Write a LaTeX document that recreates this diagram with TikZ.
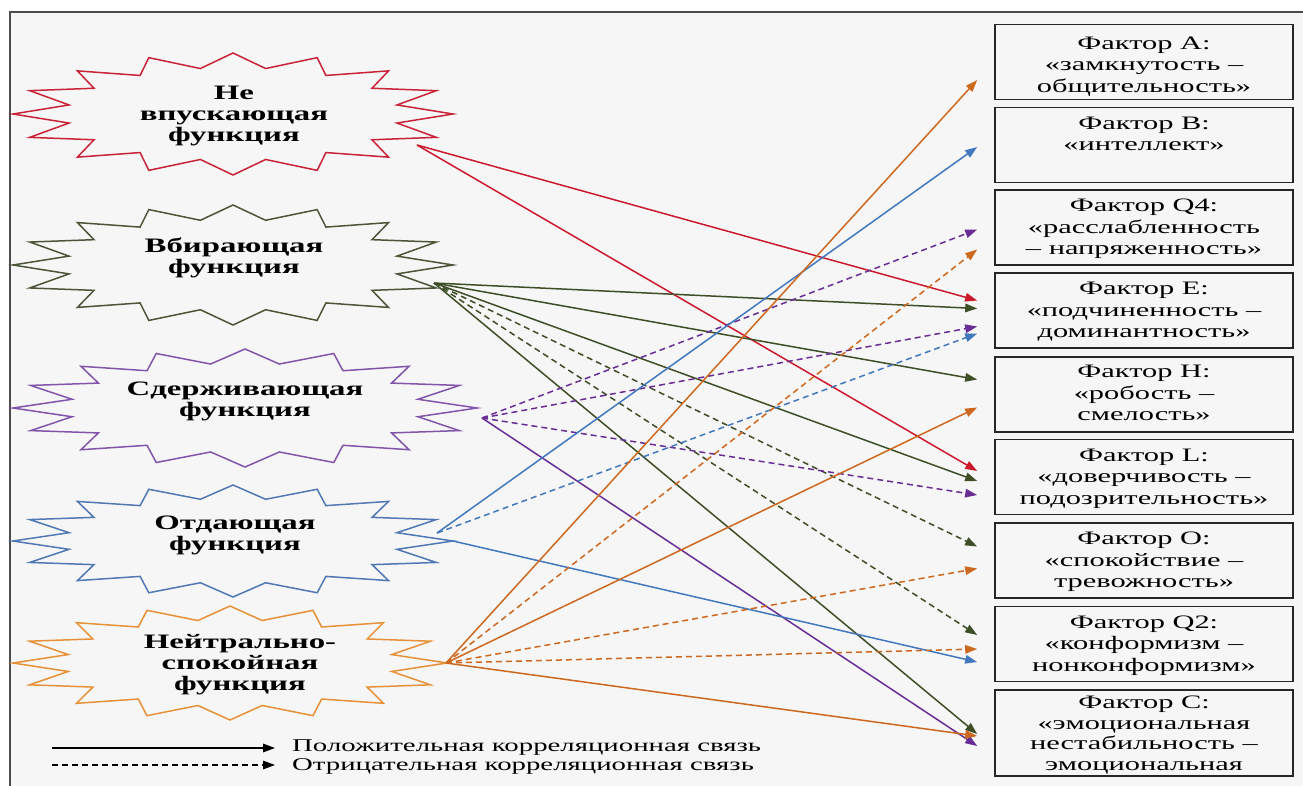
\documentclass[tikz,border=0pt]{standalone}
\usepackage{fontspec}
\setmainfont[FakeStretch=1.6]{Liberation Serif}
\usetikzlibrary{arrows.meta,calc}

\definecolor{bggray}{RGB}{246,246,246}
\definecolor{cRed}{RGB}{205,25,45}
\definecolor{cOlive}{RGB}{62,78,38}
\definecolor{cPurple}{RGB}{105,45,150}
\definecolor{cBlue}{RGB}{65,120,190}
\definecolor{cOrange}{RGB}{205,105,30}
\definecolor{sRed}{RGB}{200,35,55}
\definecolor{sOlive}{RGB}{75,85,55}
\definecolor{sPurple}{RGB}{130,85,170}
\definecolor{sBlue}{RGB}{80,120,180}
\definecolor{sOrange}{RGB}{230,145,55}

\tikzset{
  factor/.style={draw=black!85,line width=1.6pt,fill=bggray,minimum width=298pt,minimum height=75pt,inner sep=0pt},
  ftext/.style={anchor=north,align=center,inner sep=0pt,font=\fontsize{19}{21.5}\selectfont},
  stext/.style={align=center,inner sep=0pt,font=\bfseries\fontsize{20.5}{21}\selectfont},
  lnk/.style={line width=1.5pt,-{Triangle[length=12pt,width=8.5pt]}},
  neg/.style={lnk,dash pattern=on 6pt off 4pt},
}

% 16-point burst: centre x, centre y, x radius, y radius, colour
\newcommand{\burst}[5]{%
  \draw[#5,line width=1.5pt] plot[samples=33,domain=0:32,variable=\k]
    ({#1+#3*(1-0.24*mod(\k,2))*sin(11.25*\k)},{#2-#4*(1-0.24*mod(\k,2))*cos(11.25*\k)}) -- cycle;}

\begin{document}
\begin{tikzpicture}[x=1pt,y=-1pt]
\useasboundingbox (0,0) rectangle (1303,785);
\fill[bggray] (10,12) rectangle (1330,810);
\draw[black!70,line width=1.5pt] (10,810) -- (10,12) -- (1330,12);

% functions
\burst{233}{114}{220}{61}{sRed}
\node[stext] (sNe) at (234,116) {Не\\впускающая\\функция};
\burst{233}{265}{220}{60}{sOlive}
\node[stext] (sVb) at (234,258) {Вбирающая\\функция};
\burst{245}{408}{232}{59}{sPurple}
\node[stext] (sSd) at (245,401) {Сдерживающая\\функция};
\burst{233}{541}{220}{56}{sBlue}
\node[stext] (sOt) at (235,535) {Отдающая\\функция};
\burst{230}{663}{217}{57}{sOrange}
\node[stext] (sNs) at (240,665) {Нейтрально-\\спокойная\\функция};

\coordinate (oNe) at (417,145);
\coordinate (oVb) at (434,283);
\coordinate (oSd) at (482,418);
\coordinate (oOt) at (437,533);
\coordinate (oOtb) at (453,541);
\coordinate (oNs) at (446,663);

% factors
\node[factor] (fA) at (1144,62) {};
\node[ftext] (tA) at ($(fA.north)+(0,13)$) {Фактор А:\\«замкнутость –\\общительность»};
\node[factor] (fB) at (1144,145) {};
\node[ftext] (tB) at ($(fB.north)+(0,10)$) {Фактор В:\\«интеллект»};
\node[factor] (fQf) at (1144,227.5) {};
\node[ftext] (tQf) at ($(fQf.north)+(0,10)$) {Фактор Q4:\\«расслабленность\\– напряженность»};
\node[factor] (fE) at (1144,310.5) {};
\node[ftext] (tE) at ($(fE.north)+(0,10)$) {Фактор Е:\\«подчиненность –\\доминантность»};
\node[factor] (fH) at (1144,394.5) {};
\node[ftext] (tH) at ($(fH.north)+(0,9)$) {Фактор Н:\\«робость –\\смелость»};
\node[factor] (fL) at (1144,477) {};
\node[ftext] (tL) at ($(fL.north)+(0,10)$) {Фактор L:\\«доверчивость –\\подозрительность»};
\node[factor] (fO) at (1144,560.5) {};
\node[ftext] (tO) at ($(fO.north)+(0,10)$) {Фактор О:\\«спокойствие –\\тревожность»};
\node[factor] (fQt) at (1144,644) {};
\node[ftext] (tQt) at ($(fQt.north)+(0,10)$) {Фактор Q2:\\«конформизм –\\нонконформизм»};
\node[factor,minimum height=86pt] (fC) at (1144,733) {};
\node[ftext,font=\fontsize{19}{20.5}\selectfont] (tC) at ($(fC.north)+(0,7)$) {Фактор С:\\«эмоциональная\\нестабильность –\\эмоциональная};

% links
\draw[lnk,cRed] (oNe) -- ($(fE.west)+(-17,-10)$);
\draw[lnk,cRed] (oNe) -- ($(fL.west)+(-17,-6)$);

\draw[lnk,cOlive] (oVb) -- ($(fE.west)+(-17,-2)$);
\draw[lnk,cOlive] (oVb) -- ($(fH.west)+(-17,-15)$);
\draw[lnk,cOlive] (oVb) -- ($(fL.west)+(-17,4)$);
\draw[neg,cOlive] (oVb) -- ($(fO.west)+(-17,-14)$);
\draw[neg,cOlive] (oVb) -- ($(fQt.west)+(-17,-9)$);
\draw[lnk,cOlive] (oVb) -- ($(fC.west)+(-17,1)$);

\draw[neg,cPurple] (oSd) -- ($(fQf.west)+(-17,2)$);
\draw[neg,cPurple] (oSd) -- ($(fE.west)+(-17,16)$);
\draw[neg,cPurple] (oSd) -- ($(fL.west)+(-17,18)$);
\draw[lnk,cPurple] (oSd) -- ($(fC.west)+(-17,13)$);

\draw[lnk,cBlue] (oOt) -- ($(fB.west)+(-17,2)$);
\draw[neg,cBlue] (oOt) -- ($(fE.west)+(-17,23)$);
\draw[lnk,cBlue] (oOtb) -- ($(fQt.west)+(-17,18)$);

\draw[lnk,cOrange] (oNs) -- ($(fA.west)+(-17,18)$);
\draw[neg,cOrange] (oNs) -- ($(fQf.west)+(-17,22)$);
\draw[lnk,cOrange] (oNs) -- ($(fH.west)+(-17,13)$);
\draw[neg,cOrange] (oNs) -- ($(fO.west)+(-17,8)$);
\draw[neg,cOrange] (oNs) -- ($(fQt.west)+(-17,5)$);
\draw[lnk,cOrange] (oNs) -- ($(fC.west)+(-17,3)$);

% legend
\coordinate (lgA) at (52,748);
\coordinate (lgB) at (275,748);
\coordinate (lgC) at (52,765);
\coordinate (lgD) at (275,765);
\draw[lnk,black] (lgA) -- (lgB);
\draw[neg,black] (lgC) -- (lgD);
\node[anchor=west,align=left,inner sep=0pt,font=\fontsize{18}{18.5}\selectfont] (lgnd) at (292,757) {Положительная корреляционная связь\\Отрицательная корреляционная связь};
\end{tikzpicture}
\end{document}
